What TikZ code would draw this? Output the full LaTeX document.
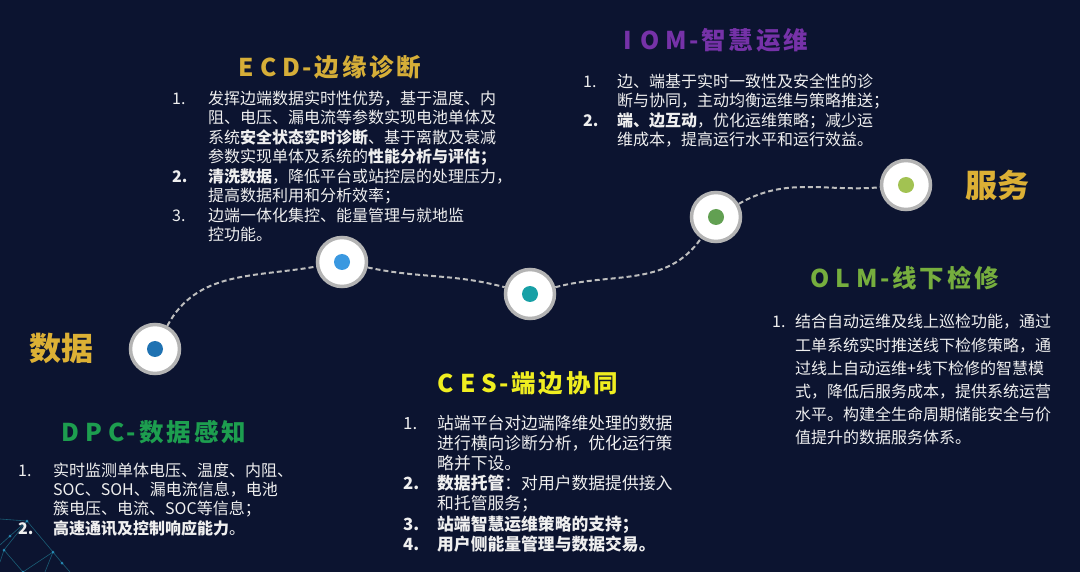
\documentclass[tikz,border=0pt]{standalone}
\usepackage{fontspec}
\usepackage{array}
\setmainfont{Noto Sans CJK SC}
\newfontfamily\ttlfont[LetterSpace=12]{Noto Sans CJK SC}
\definecolor{bgnavy}{HTML}{0C1430}
\definecolor{ringgray}{HTML}{B4B4B4}
\definecolor{trailgray}{HTML}{BEBEBE}
\definecolor{txtwhite}{HTML}{EFEFEF}
\definecolor{goldtxt}{HTML}{DCB035}
\definecolor{ecdgold}{HTML}{D6AE38}
\definecolor{iompurple}{HTML}{7632A8}
\definecolor{cesyellow}{HTML}{F0EE20}
\definecolor{dpcgreen}{HTML}{1D9E4F}
\definecolor{olmgreen}{HTML}{76AE3E}
\definecolor{dotA}{HTML}{1F72B2}
\definecolor{dotB}{HTML}{3A98E0}
\definecolor{dotC}{HTML}{18A0A6}
\definecolor{dotD}{HTML}{62A052}
\definecolor{dotE}{HTML}{A2C252}
\definecolor{netteal}{HTML}{1E7088}
\tikzset{
  station/.style={circle, draw=ringgray, line width=3.5pt, fill=white,
    minimum size=49pt, inner sep=0pt},
  trail/.style={trailgray, line width=2pt, dash pattern=on 5pt off 3pt},
  stage/.style={font=\ttlfont\bfseries\fontsize{24.5}{28}\selectfont, inner sep=0pt},
  endword/.style={goldtxt, font=\bfseries\fontsize{32}{36}\selectfont, inner sep=0pt},
  blk/.style={txtwhite, inner sep=0pt, anchor=base west}
}
\begin{document}
\begin{tikzpicture}[x=1pt,y=1pt]
        %% Background
        \fill[bgnavy] (0,0) rectangle (1080,-572);
        \useasboundingbox (0,0) rectangle (1080,-572);
        %% Network in the corner
        \begin{scope}[netteal, line width=0.6pt, opacity=0.8]
          \draw (0,-519) -- (27,-521) -- (53,-552) -- (62,-563) -- (70,-572);
          \draw (27,-521) -- (4,-550) -- (23,-572);
          \draw (27,-521) -- (10,-536) -- (0,-545);
          \draw (53,-552) -- (23,-572);
          \draw (4,-550) -- (0,-562);
          \draw (53,-552) -- (45,-572);
          \foreach \p in {(27,-521),(53,-552),(4,-550),(62,-563),(23,-572),(10,-536)}
            \fill[cyan!60!teal] \p circle (1.5pt);
        \end{scope}
        %% Stations
        \node[station] (c1) at (155,-349) {};
        \node[station] (c2) at (342,-262) {};
        \node[station] (c3) at (530,-294) {};
        \node[station] (c4) at (716,-217) {};
        \node[station] (c5) at (906,-185) {};
        \fill[dotA] (c1) circle (8pt);
        \fill[dotB] (c2) circle (8pt);
        \fill[dotC] (c3) circle (8pt);
        \fill[dotD] (c4) circle (8pt);
        \fill[dotE] (c5) circle (8pt);
        %% Dashed trail
        \draw[trail] (c1) to[out=62,in=190] (c2);
        \draw[trail] (c2) to[out=-12,in=165] (c3);
        \draw[trail] (c3) to[out=15,in=235] (c4);
        \draw[trail] (c4) to[out=30,in=185] (c5);
        %% Start and end words
        \node[endword] (data) at (62,-348) {数据};
        \node[endword] (serv) at (997,-185) {服务};
        %% Titles
        \node[stage, dpcgreen] (dpc) at (154,-432) {D\kern6pt P\kern6pt C\kern2pt-数据感知};
        \node[stage, ecdgold] (ecd) at (330,-67) {E\kern6pt C\kern6pt D\kern2pt-边缘诊断};
        \node[stage, cesyellow] (ces) at (528,-383) {C\kern6pt E\kern6pt S\kern2pt-端边协同};
        \node[stage, iompurple] (iom) at (716,-40) {I\kern8pt O\kern6pt M\kern2pt-智慧运维};
        \node[stage, olmgreen] (olm) at (905,-278) {O\kern6pt L\kern6pt M\kern2pt-线下检修};
        %% Texts
        \node[blk] (ecdtxt) at (172,-104.5) {\fontsize{16}{19.2}\selectfont
          \begin{tabular}[t]{@{}p{36pt}@{}l@{}}
          1. & 发挥边端数据实时性优势，基于温度、内\\
             & 阻、电压、漏电流等参数实现电池单体及\\
             & 系统\textbf{安全状态实时诊断}、基于离散及衰减\\
             & 参数实现单体及系统的\textbf{性能分析与评估；}\\
          \textbf{2.} & \textbf{清洗数据}，降低平台或站控层的处理压力，\\
             & 提高数据利用和分析效率；\\
          3. & 边端一体化集控、能量管理与就地监\\
             & 控功能。
          \end{tabular}};
        \node[blk] (iomtxt) at (583,-87.5) {\fontsize{16}{19}\selectfont
          \begin{tabular}[t]{@{}p{34pt}@{}l@{}}
          1. & 边、端基于实时一致性及安全性的诊\\
             & 断与协同，主动均衡运维与策略推送；\\
          \textbf{2.} & \textbf{端、边互动}，优化运维策略；减少运\\
             & 维成本，提高运行水平和运行效益。
          \end{tabular}};
        \node[blk] (cestxt) at (403,-429.5) {\fontsize{16.8}{19.5}\selectfont
          \begin{tabular}[t]{@{}p{34pt}@{}l@{}}
          1. & 站端平台对边端降维处理的数据\\
             & 进行横向诊断分析，优化运行策\\
             & 略并下设。\\
          \textbf{2.} & \textbf{数据托管}：对用户数据提供接入\\
             & 和托管服务；\\
          \textbf{3.} & \textbf{站端智慧运维策略的支持；}\\
          \textbf{4.} & \textbf{用户侧能量管理与数据交易。}
          \end{tabular}};
        \node[blk] (dpctxt) at (18,-476) {\fontsize{16}{19}\selectfont
          \begin{tabular}[t]{@{}p{35pt}@{}l@{}}
          1. & 实时监测单体电压、温度、内阻、\\
             & SOC、SOH、漏电流信息，电池\\
             & 簇电压、电流、SOC等信息；\\
          \textbf{2.} & \textbf{高速通讯及控制响应能力}。
          \end{tabular}};
        \node[blk] (olmtxt) at (772,-328) {\fontsize{16}{23.2}\selectfont
          \begin{tabular}[t]{@{}p{23pt}@{}l@{}}
          1. & 结合自动运维及线上巡检功能，通过\\
             & 工单系统实时推送线下检修策略，通\\
             & 过线上自动运维+线下检修的智慧模\\
             & 式，降低后服务成本，提供系统运营\\
             & 水平。构建全生命周期储能安全与价\\
             & 值提升的数据服务体系。
          \end{tabular}};
\end{tikzpicture}
\end{document}
